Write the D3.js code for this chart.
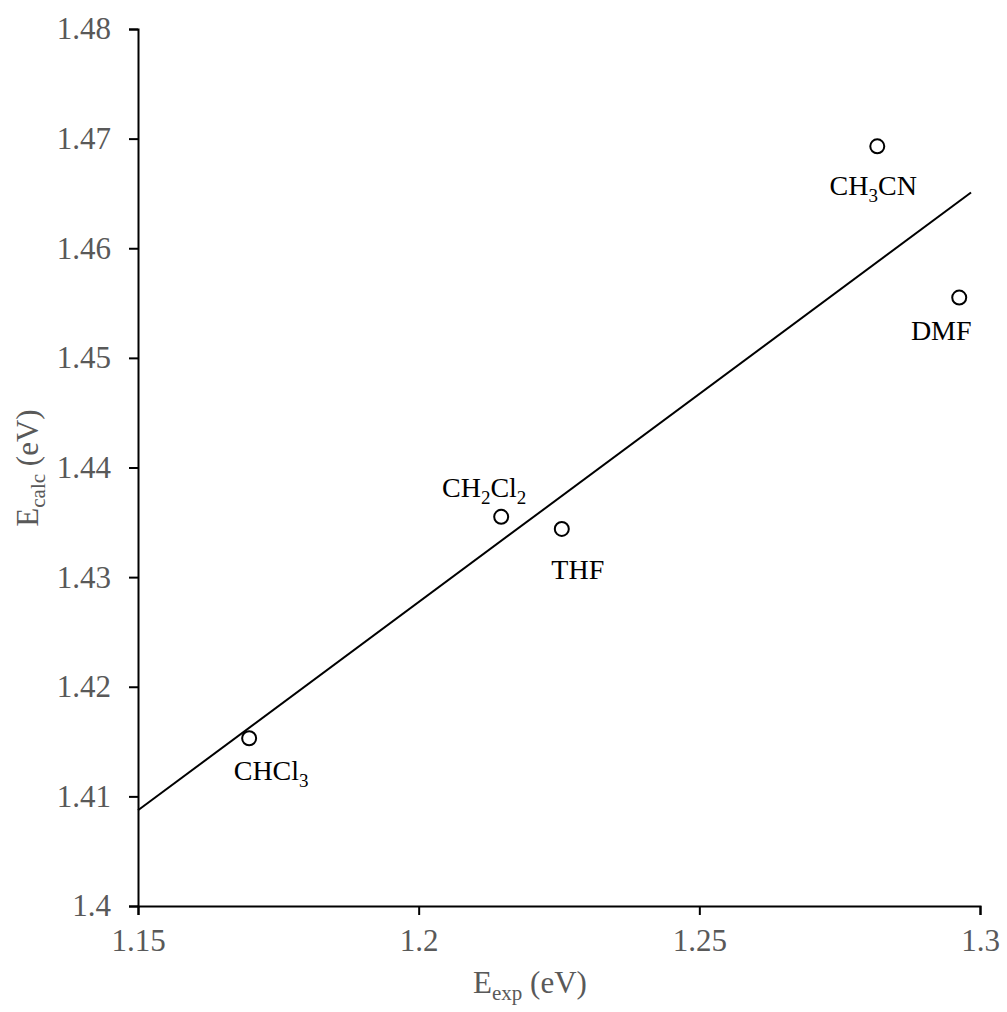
<!DOCTYPE html>
<html>
<head>
<meta charset="utf-8">
<script src="https://cdnjs.cloudflare.com/ajax/libs/d3/7.8.5/d3.min.js"></script>
<style>
  html, body { margin: 0; padding: 0; background: #fff; }
  svg { display: block; }
</style>
</head>
<body>
<svg id="chart" width="1007" height="1012"></svg>
<script>
// Solvent names and measured / calculated energies (eV)
const solvents = ["CHCl3", "CH2Cl2", "THF", "CH3CN", "DMF"];
const eExp  = [1.1698, 1.2147, 1.2255, 1.2817, 1.2963];
const eCalc = [1.4153, 1.4355, 1.4344, 1.4693, 1.4555];

// Axis ticks
const xTicks = [1.15, 1.2, 1.25, 1.3];
const yTicks = [1.40, 1.41, 1.42, 1.43, 1.44, 1.45, 1.46, 1.47, 1.48];

// Extent of the fitted line along x
const fitRange = [1.15, 1.2984];

// Label placement relative to each point (px)
const labelOffset = [[22, 42], [-17, -20], [16, 50], [-4, 49], [-18, 42]];

const svg = d3.select("#chart");
const margin = { left: 138, right: 27, top: 29, bottom: 106 };
const W = 1007, H = 1012;

const x = d3.scaleLinear().domain([1.15, 1.3]).range([margin.left, W - margin.right]);
const y = d3.scaleLinear().domain([1.40, 1.48]).range([H - margin.bottom, margin.top]);

const serif = "'Liberation Serif', 'Times New Roman', serif";
const gray = "#595959";

// Axes
const xAxis = svg.append("g")
  .attr("transform", `translate(0,${y(1.40)})`)
  .call(d3.axisBottom(x).tickValues(xTicks).tickSizeOuter(0).tickSize(9).tickPadding(14)
    .tickFormat(d => d3.format("")(+d.toFixed(2))));
const yAxis = svg.append("g")
  .attr("transform", `translate(${x(1.15)},0)`)
  .call(d3.axisLeft(y).tickValues(yTicks).tickSizeOuter(0).tickSize(9).tickPadding(18)
    .tickFormat(d => d3.format("")(+d.toFixed(2))));

[xAxis, yAxis].forEach(g => {
  g.select(".domain").attr("stroke", "#000").attr("stroke-width", 2);
  g.selectAll(".tick line").attr("stroke", "#000").attr("stroke-width", 2);
  g.selectAll(".tick text")
    .attr("fill", gray)
    .style("font-family", serif)
    .style("font-size", "31px");
});

// Least-squares fit line
const n = eExp.length;
const mx = d3.mean(eExp), my = d3.mean(eCalc);
let sxy = 0, sxx = 0;
for (let i = 0; i < n; i++) {
  sxy += (eExp[i] - mx) * (eCalc[i] - my);
  sxx += (eExp[i] - mx) ** 2;
}
const slope = sxy / sxx, intercept = my - slope * mx;

svg.append("line")
  .attr("x1", x(fitRange[0])).attr("y1", y(intercept + slope * fitRange[0]))
  .attr("x2", x(fitRange[1])).attr("y2", y(intercept + slope * fitRange[1]))
  .attr("stroke", "#000").attr("stroke-width", 2);

// Points
const pts = solvents.map((s, i) => ({ name: s, xv: eExp[i], yv: eCalc[i], off: labelOffset[i] }));

svg.selectAll("circle.pt").data(pts).join("circle")
  .attr("class", "pt")
  .attr("cx", d => x(d.xv)).attr("cy", d => y(d.yv))
  .attr("r", 7)
  .attr("fill", "#fff").attr("stroke", "#000").attr("stroke-width", 2);

// Labels with digit subscripts
const labels = svg.selectAll("text.lbl").data(pts).join("text")
  .attr("class", "lbl")
  .attr("x", d => x(d.xv) + d.off[0])
  .attr("y", d => y(d.yv) + d.off[1])
  .attr("text-anchor", "middle")
  .style("font-family", serif)
  .style("font-size", "28px")
  .attr("fill", "#000");

labels.each(function(d) {
  const t = d3.select(this);
  const parts = d.name.match(/[A-Za-z]+|\d+/g);
  let sub = false;
  parts.forEach(p => {
    const isNum = /\d/.test(p);
    const span = t.append("tspan").text(p);
    if (isNum) {
      span.style("font-size", "19px").attr("dy", sub ? 0 : 7);
      sub = true;
    } else if (sub) {
      span.attr("dy", -7);
      sub = false;
    }
  });
});

// Axis titles
const xTitle = svg.append("text")
  .attr("x", 530).attr("y", 993)
  .attr("text-anchor", "middle")
  .attr("fill", gray)
  .style("font-family", serif)
  .style("font-size", "31px");
xTitle.append("tspan").text("E");
xTitle.append("tspan").text("exp").style("font-size", "21px").attr("dy", 7);
xTitle.append("tspan").text(" (eV)").attr("dy", -7);

const yTitle = svg.append("text")
  .attr("transform", "translate(38,468) rotate(-90)")
  .attr("text-anchor", "middle")
  .attr("fill", gray)
  .style("font-family", serif)
  .style("font-size", "31px");
yTitle.append("tspan").text("E");
yTitle.append("tspan").text("calc").style("font-size", "21px").attr("dy", 7);
yTitle.append("tspan").text(" (eV)").attr("dy", -7);
</script>
</body>
</html>
